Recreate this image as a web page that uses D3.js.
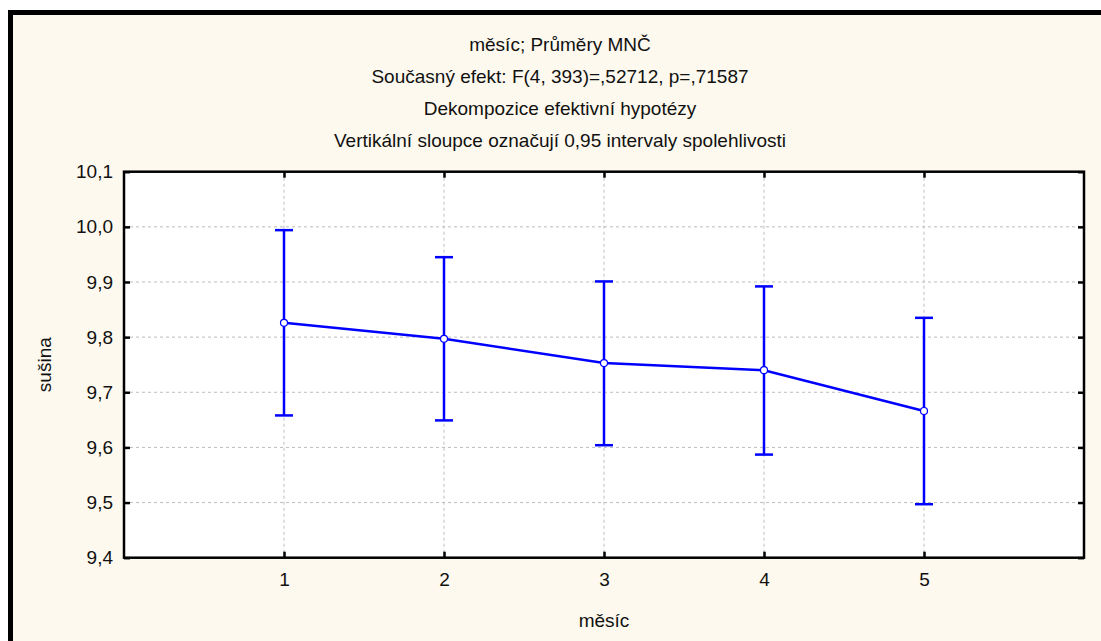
<!DOCTYPE html>
<html><head><meta charset="utf-8">
<script src="https://cdn.jsdelivr.net/npm/d3@7"></script>
<style>body{margin:0;background:#fff;} svg{display:block;}</style>
</head><body>
<svg id="c" width="1101" height="641"></svg>
<script>
const categories = [1, 2, 3, 4, 5];
const means = [9.826, 9.797, 9.753, 9.740, 9.666];
const upper = [9.994, 9.945, 9.901, 9.892, 9.835];
const lower = [9.658, 9.649, 9.604, 9.587, 9.497];
const yTicks = [9.4, 9.5, 9.6, 9.7, 9.8, 9.9, 10.0, 10.1];
const titleLines = [
  "měsíc; Průměry MNČ",
  "Současný efekt: F(4, 393)=,52712, p=,71587",
  "Dekompozice efektivní hypotézy",
  "Vertikální sloupce označují 0,95 intervaly spolehlivosti"
];
const xLabel = "měsíc";
const yLabel = "sušina";

const svg = d3.select("#c");
const font = "'Liberation Sans', Arial, sans-serif";
const L = 124, R = 1084, T = 171.7, B = 557.7;

// frame & background
svg.append("rect").attr("x", 10.5).attr("y", 12.5).attr("width", 1200).attr("height", 700)
  .attr("fill", "#fdf9ee").attr("stroke", "#000").attr("stroke-width", 5);

const x = d3.scaleLinear().domain([0, 6]).range([L, R]);
const y = d3.scaleLinear().domain([9.4, 10.1]).range([B, T]);

svg.append("rect").attr("x", L).attr("y", T).attr("width", R - L).attr("height", B - T).attr("fill", "#fff");

// grid
const g = svg.append("g");
g.selectAll(".gy").data(yTicks.filter(d => d > 9.4 + 1e-9 && d < 10.1 - 1e-9)).enter().append("line")
  .attr("x1", L).attr("x2", R).attr("y1", d => y(d)).attr("y2", d => y(d))
  .attr("stroke", "#bdbdbd").attr("stroke-width", 1).attr("stroke-dasharray", "3,3");
g.selectAll(".gx").data(categories).enter().append("line")
  .attr("y1", T).attr("y2", B).attr("x1", d => x(d)).attr("x2", d => x(d))
  .attr("stroke", "#bdbdbd").attr("stroke-width", 1).attr("stroke-dasharray", "3,3");

// axes with inward ticks
const fmt = d => d3.format(".1f")(d).replace(".", ",");
const axL = svg.append("g").attr("transform", `translate(${L},0)`)
  .call(d3.axisLeft(y).tickValues(yTicks).tickSize(-6).tickPadding(11).tickFormat(fmt));
const axR = svg.append("g").attr("transform", `translate(${R},0)`)
  .call(d3.axisRight(y).tickValues(yTicks).tickSize(-6).tickFormat(""));
const axB = svg.append("g").attr("transform", `translate(0,${B})`)
  .call(d3.axisBottom(x).tickValues(categories).tickSize(-6).tickPadding(15).tickFormat(d3.format("d")));
const axT = svg.append("g").attr("transform", `translate(0,${T})`)
  .call(d3.axisTop(x).tickValues(categories).tickSize(-6).tickFormat(""));
[axL, axR, axB, axT].forEach(a => {
  a.select(".domain").remove();
  a.selectAll(".tick line").attr("stroke", "#000").attr("stroke-width", 2.5);
  a.selectAll("text").attr("font-family", font).attr("font-size", 19).attr("fill", "#111");
});
svg.append("rect").attr("x", L).attr("y", T).attr("width", R - L).attr("height", B - T)
  .attr("fill", "none").attr("stroke", "#000").attr("stroke-width", 2.5);

// error bars
const blue = "#0000ff";
const eb = svg.append("g");
categories.forEach((c, i) => {
  eb.append("line").attr("x1", x(c)).attr("x2", x(c)).attr("y1", y(upper[i])).attr("y2", y(lower[i]))
    .attr("stroke", blue).attr("stroke-width", 2.5);
  [upper[i], lower[i]].forEach(v => {
    eb.append("line").attr("x1", x(c) - 9).attr("x2", x(c) + 9).attr("y1", y(v)).attr("y2", y(v))
      .attr("stroke", blue).attr("stroke-width", 2.5);
  });
});
const line = d3.line().x((d, i) => x(categories[i])).y(d => y(d));
svg.append("path").datum(means).attr("d", line).attr("fill", "none").attr("stroke", blue).attr("stroke-width", 2.5);
svg.selectAll(".pt").data(means).enter().append("circle")
  .attr("cx", (d, i) => x(categories[i])).attr("cy", d => y(d)).attr("r", 3.5)
  .attr("fill", "#fff").attr("stroke", blue).attr("stroke-width", 1.2);

// titles
titleLines.forEach((t, i) => {
  svg.append("text").attr("x", 560).attr("y", 51 + i * 32).attr("text-anchor", "middle")
    .attr("font-family", font).attr("font-size", 19).attr("fill", "#111").text(t);
});
svg.append("text").attr("x", 604).attr("y", 627).attr("text-anchor", "middle")
  .attr("font-family", font).attr("font-size", 19).attr("fill", "#111").text(xLabel);
svg.append("text").attr("transform", `translate(51,${(T + B) / 2}) rotate(-90)`).attr("text-anchor", "middle")
  .attr("font-family", font).attr("font-size", 19).attr("fill", "#111").text(yLabel);
</script>
</body></html>
